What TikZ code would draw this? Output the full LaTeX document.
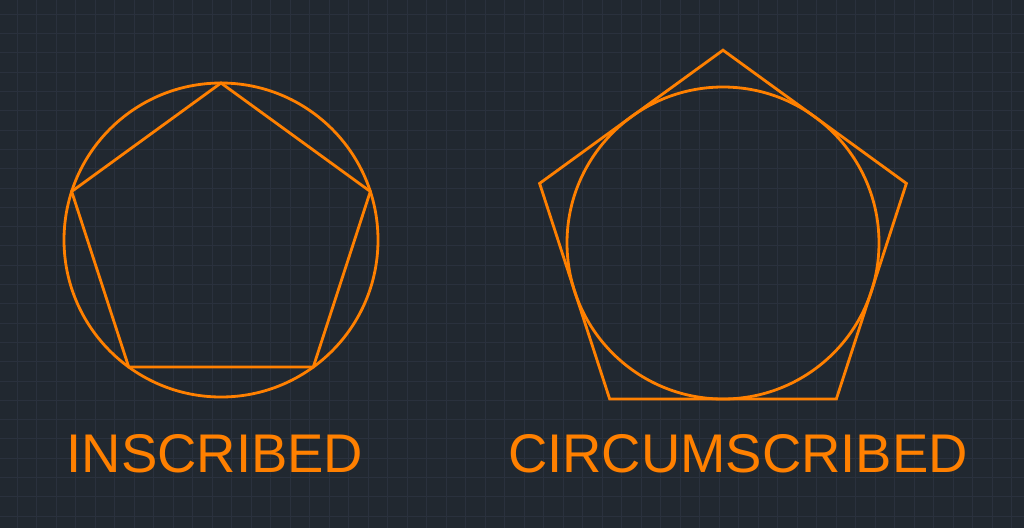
\documentclass[tikz,border=0pt]{standalone}
\usepackage{fontspec}
\setmainfont{Liberation Sans}
\usetikzlibrary{calc}

\definecolor{cadbg}{HTML}{212830}
\definecolor{cadgrid}{HTML}{2A313D}
\definecolor{cadorange}{HTML}{FF8000}

\begin{document}
\begin{tikzpicture}[
    x=0.02cm, y=-0.02cm,
    % Define styles for consistency
    gridline/.style={draw=cadgrid, line width=0.5pt},
    shape_line/.style={draw=cadorange, line width=1.6pt, line join=miter},
    title_label/.style={text=cadorange, font=\fontsize{31}{31}\selectfont, inner sep=0pt, anchor=base}
]

    % ---------------------------------------------------------
    % 0. Background and drawing grid
    % ---------------------------------------------------------
    \fill[cadbg] (0,0) rectangle (1024,528);
    \useasboundingbox (0,0) rectangle (1024,528);
    \foreach \i in {0,...,52} {
        \draw[gridline] ({-2.5+19.5*\i},0) -- ({-2.5+19.5*\i},528);
    }
    \foreach \j in {0,...,27} {
        \draw[gridline] (0,{-5+19.3*\j}) -- (1024,{-5+19.3*\j});
    }

    % ---------------------------------------------------------
    % 1. Inscribed pentagon (vertices on the circle)
    % ---------------------------------------------------------
    \begin{scope}[shift={(221,240)}]
        \draw[shape_line] (0,0) circle[radius=157];
        \draw[shape_line] (0,-157)
            \foreach \a in {162,234,306,18} { -- ({157*cos(\a)},{-157*sin(\a)}) } -- cycle;
    \end{scope}

    % ---------------------------------------------------------
    % 2. Circumscribed pentagon (sides tangent to the circle)
    % ---------------------------------------------------------
    \begin{scope}[shift={(723,243)}]
        \draw[shape_line] (0,0) circle[radius=156];
        \pgfmathsetmacro{\R}{156/cos(36)}
        \draw[shape_line] (0,-\R)
            \foreach \a in {162,234,306,18} { -- ({\R*cos(\a)},{-\R*sin(\a)}) } -- cycle;
    \end{scope}

    % ---------------------------------------------------------
    % 3. Labels
    % ---------------------------------------------------------
    \node[title_label] (inscribed) at (215,472) {INSCRIBED};
    \node[title_label] (circumscribed) at (738,472) {CIRCUMSCRIBED};
\end{tikzpicture}
\end{document}
